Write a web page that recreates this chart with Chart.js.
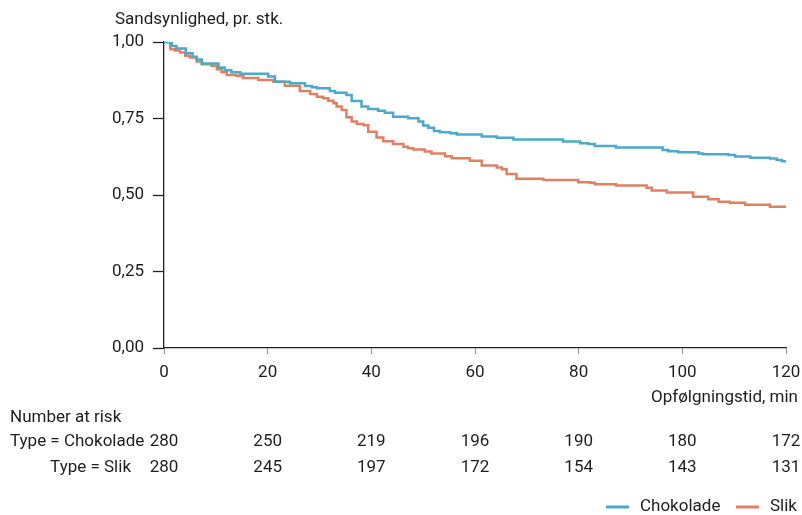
<!DOCTYPE html>
<html>
<head>
<meta charset="utf-8">
<script src="https://cdn.jsdelivr.net/npm/chart.js@4/dist/chart.umd.min.js"></script>
<style>
html,body{margin:0;padding:0;background:#fff;}
canvas{display:block;}
</style>
</head>
<body>
<canvas id="c" width="802" height="515"></canvas>
<script>
// ---- data ----
const seriesNames = ['Chokolade', 'Slik'];
const chokTime = [0, 1.5, 2.4, 4.2, 5.5, 6.3, 7.3, 10.5, 11.7, 13, 14.7, 20.1, 21.4, 24.3, 27.2, 28.5, 29.5, 32, 33, 35.2, 36.2, 38.1, 39.4, 41.3, 42.6, 44.2, 47.1, 49.1, 50, 51, 52.1, 53.2, 55.2, 56.5, 61.3, 64.2, 67.4, 77, 80.3, 81.9, 83.1, 87.2, 96.2, 97.3, 99.2, 103.1, 104, 108.9, 110.2, 113.1, 116.9, 118.2, 119.2, 120];
const chokSurv = [1, 0.987, 0.979, 0.963, 0.952, 0.943, 0.930, 0.917, 0.908, 0.901, 0.896, 0.887, 0.870, 0.865, 0.856, 0.852, 0.849, 0.840, 0.834, 0.827, 0.807, 0.789, 0.781, 0.775, 0.769, 0.756, 0.751, 0.740, 0.727, 0.720, 0.709, 0.705, 0.702, 0.698, 0.691, 0.687, 0.681, 0.675, 0.669, 0.667, 0.660, 0.655, 0.647, 0.643, 0.640, 0.636, 0.633, 0.631, 0.626, 0.622, 0.619, 0.614, 0.610, 0.610];
const slikTime = [0, 1.2, 2.1, 3.1, 4.1, 5, 6.3, 7.3, 9.2, 10.2, 11.1, 12.1, 14, 15.3, 18.2, 21.1, 23.3, 26.2, 28.2, 29.5, 30.7, 31.7, 32.7, 33.3, 34.3, 35.2, 36.2, 37.2, 38.5, 39.4, 41, 42.3, 44.2, 46.2, 47.1, 48.1, 50.3, 51.6, 54.2, 55.5, 59, 61.3, 64.2, 65.2, 66.1, 68, 73.2, 79.9, 82.2, 83.1, 87.2, 93.1, 94.1, 97, 102.1, 105, 107, 109.2, 112.1, 116.9, 120];
const slikSurv = [1, 0.976, 0.972, 0.966, 0.955, 0.949, 0.936, 0.927, 0.922, 0.911, 0.901, 0.892, 0.889, 0.882, 0.876, 0.870, 0.857, 0.840, 0.830, 0.821, 0.816, 0.808, 0.800, 0.789, 0.778, 0.754, 0.740, 0.732, 0.728, 0.707, 0.688, 0.676, 0.667, 0.658, 0.653, 0.649, 0.642, 0.636, 0.627, 0.620, 0.612, 0.596, 0.590, 0.584, 0.569, 0.553, 0.549, 0.542, 0.540, 0.535, 0.531, 0.524, 0.515, 0.508, 0.494, 0.486, 0.478, 0.475, 0.468, 0.462, 0.462];
const xTicks = [0, 20, 40, 60, 80, 100, 120];
const yTicks = [0, 0.25, 0.5, 0.75, 1];
const yTickLabels = ['0,00', '0,25', '0,50', '0,75', '1,00'];
const riskTimes = [0, 20, 40, 60, 80, 100, 120];
const riskChok = [280, 250, 219, 196, 190, 180, 172];
const riskSlik = [280, 245, 197, 172, 154, 143, 131];
const yTitle = 'Sandsynlighed, pr. stk.';
const xTitle = 'Opfølgningstid, min';
const riskTitle = 'Number at risk';
const riskRowLabels = ['Type = Chokolade', 'Type = Slik'];

// ---- style ----
const FONT = 'Roboto, "Noto Sans", sans-serif';
const FS = 17;
const TXT = '#1e1e1e';
const colors = ['#4ba9c9', '#e27f62'];

const toPts = (t, s) => t.map((v, i) => ({x: v, y: s[i]}));

const overlay = {
  id: 'overlay',
  afterDraw(chart) {
    const ctx = chart.ctx;
    const xs = chart.scales.x;
    ctx.save();
    ctx.fillStyle = TXT;
    ctx.font = FS + 'px ' + FONT;
    ctx.textBaseline = 'middle';
    // y title
    ctx.textAlign = 'left';
    ctx.fillText(yTitle, 115, 20);
    // x title
    ctx.textAlign = 'right';
    ctx.fillText(xTitle, 798, 398);
    // risk table
    ctx.textAlign = 'left';
    ctx.fillText(riskTitle, 10, 418);
    ctx.fillText(riskRowLabels[0], 10, 442);
    ctx.textAlign = 'right';
    ctx.fillText(riskRowLabels[1], 131, 468);
    ctx.textAlign = 'center';
    riskTimes.forEach((t, i) => {
      const px = xs.getPixelForValue(t);
      ctx.fillText(String(riskChok[i]), px, 442);
      ctx.fillText(String(riskSlik[i]), px, 468);
    });
    // legend
    const items = [{x: 606, tx: 640}, {x: 736, tx: 770}];
    items.forEach((it, i) => {
      ctx.strokeStyle = colors[i];
      ctx.lineWidth = 3;
      ctx.beginPath();
      ctx.moveTo(it.x, 507);
      ctx.lineTo(it.x + 23, 507);
      ctx.stroke();
      ctx.textAlign = 'left';
      ctx.fillStyle = TXT;
      ctx.fillText(seriesNames[i], it.tx, 507);
    });
    ctx.restore();
  }
};

new Chart(document.getElementById('c'), {
  type: 'line',
  data: {
    datasets: [
      {label: seriesNames[0], data: toPts(chokTime, chokSurv), borderColor: colors[0], backgroundColor: colors[0], borderWidth: 2.5, pointRadius: 0, stepped: true, fill: false},
      {label: seriesNames[1], data: toPts(slikTime, slikSurv), borderColor: colors[1], backgroundColor: colors[1], borderWidth: 2.5, pointRadius: 0, stepped: true, fill: false}
    ]
  },
  options: {
    responsive: false,
    animation: false,
    layout: {padding: {left: 0, top: 42, right: 16, bottom: 0}},
    plugins: {legend: {display: false}, tooltip: {enabled: false}},
    scales: {
      x: {
        type: 'linear', min: 0, max: 120,
        afterBuildTicks(s) { s.ticks = xTicks.map(v => ({value: v})); },
        afterFit(s) { s.height = 167; s.paddingRight = 0; s.paddingLeft = 0; },
        grid: {drawOnChartArea: false, drawTicks: true, tickLength: 6, tickColor: '#9a9a9a', tickWidth: 1.2},
        border: {display: true, color: '#222', width: 1.3},
        ticks: {color: TXT, font: {family: FONT, size: FS}, padding: 9, maxRotation: 0, autoSkip: false}
      },
      y: {
        type: 'linear', min: 0, max: 1,
        afterBuildTicks(s) { s.ticks = yTicks.map(v => ({value: v})); },
        afterFit(s) { s.width = 164; },
        grid: {drawOnChartArea: false, drawTicks: true, tickLength: 11, tickColor: '#222', tickWidth: 1.3},
        border: {display: true, color: '#222', width: 1.3},
        ticks: {color: TXT, font: {family: FONT, size: FS}, padding: 9,
          callback: (v, i) => yTickLabels[yTicks.indexOf(v)]}
      }
    }
  },
  plugins: [overlay]
});
</script>
</body>
</html>
